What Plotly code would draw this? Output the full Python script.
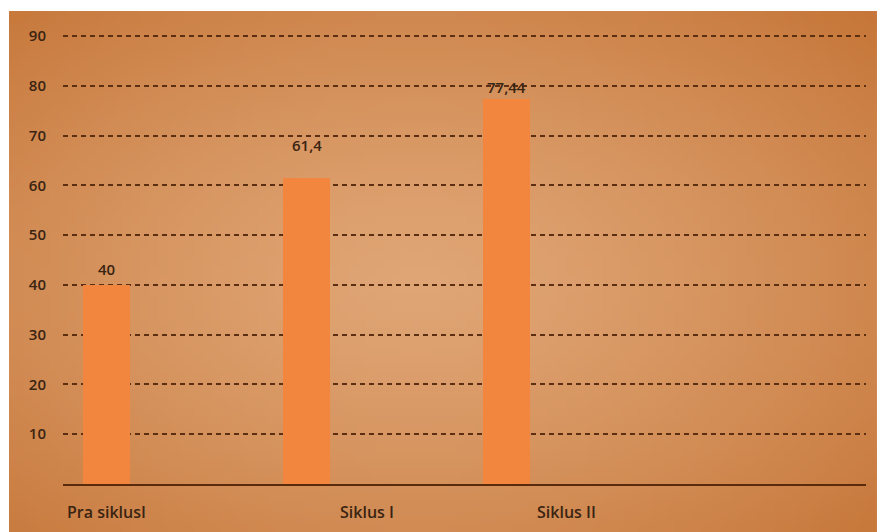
import base64, struct, zlib
import plotly.graph_objects as go

# ---- data ----
categories = ["Pra siklusI", "Siklus I", "Siklus II"]
values = [40, 61.4, 77.44]
value_labels = ["40", "61,4", "77,44"]
y_ticks = [10, 20, 30, 40, 50, 60, 70, 80, 90]

# ---- style ----
label_offsets = [0.0, 0.3, 0.3]
value_label_shift = [16, 33, 12]
text_color = "#3a2412"
grid_color = "#5c2e12"
bar_color = "#f2863e"
font_family = "Open Sans, Liberation Sans, Arial, sans-serif"


def make_png(w, h):
    rows = []
    cx, cy = 0.47, 0.52
    inner = (224, 166, 118)
    outer = (198, 118, 56)
    for j in range(h):
        row = bytearray([0])
        for i in range(w):
            dx = (i / (w - 1) - cx) / 0.75
            dy = (j / (h - 1) - cy) / 0.75
            t = min(1.0, (dx * dx + dy * dy) ** 0.5)
            t = t ** 1.3
            c = [int(inner[k] + (outer[k] - inner[k]) * t) for k in range(3)]
            row += bytes(c)
        rows.append(bytes(row))
    raw = b"".join(rows)

    def chunk(tag, data):
        return struct.pack(">I", len(data)) + tag + data + struct.pack(">I", zlib.crc32(tag + data) & 0xFFFFFFFF)

    png = b"\x89PNG\r\n\x1a\n"
    png += chunk(b"IHDR", struct.pack(">IIBBBBB", w, h, 8, 2, 0, 0, 0))
    png += chunk(b"IDAT", zlib.compress(raw, 9))
    png += chunk(b"IEND", b"")
    return "data:image/png;base64," + base64.b64encode(png).decode()


bg = make_png(96, 60)

xs = list(range(len(categories)))

fig = go.Figure()
fig.add_trace(go.Bar(
    x=xs, y=values, width=0.235,
    marker=dict(color=bar_color, line=dict(width=0)),
    hoverinfo="skip", showlegend=False,
))

font = dict(size=15, color=text_color, family=font_family, weight=600)
cat_font = dict(size=16, color=text_color, family=font_family, weight=600)

annotations = []
for i, (v, lab) in enumerate(zip(values, value_labels)):
    annotations.append(dict(
        x=xs[i], y=v, xref="x", yref="y", text=lab, showarrow=False,
        yanchor="middle", yshift=value_label_shift[i], font=font,
    ))
for i, c in enumerate(categories):
    annotations.append(dict(
        x=xs[i] + label_offsets[i], y=0, xref="x", yref="y", text=c, showarrow=False,
        yanchor="middle", yshift=-28, font=cat_font,
    ))

# plot area: x 63..866 px, y(0)=484 px, y(90)=36 px
fig.update_layout(
    width=877, height=532,
    margin=dict(l=63, r=11, t=34, b=48),
    paper_bgcolor="white",
    plot_bgcolor="rgba(0,0,0,0)",
    bargap=0,
    images=[dict(
        source=bg, xref="paper", yref="paper",
        x=-0.06725, y=1.0511, sizex=1.0809, sizey=1.1578,
        xanchor="left", yanchor="top", sizing="stretch", layer="below",
    )],
    annotations=annotations,
    xaxis=dict(
        range=[-0.2175, 3.7975], showgrid=False, zeroline=False,
        showticklabels=False, ticks="",
        showline=True, linecolor="#5a2a0c", linewidth=2,
    ),
    yaxis=dict(
        range=[0, 90.4], tickvals=y_ticks, ticks="",
        showgrid=True, gridcolor=grid_color, gridwidth=2, griddash="5px,4px",
        zeroline=False, showline=False,
        tickfont=font,
        ticklabelstandoff=16,
    ),
)

fig.write_html("out.html")
